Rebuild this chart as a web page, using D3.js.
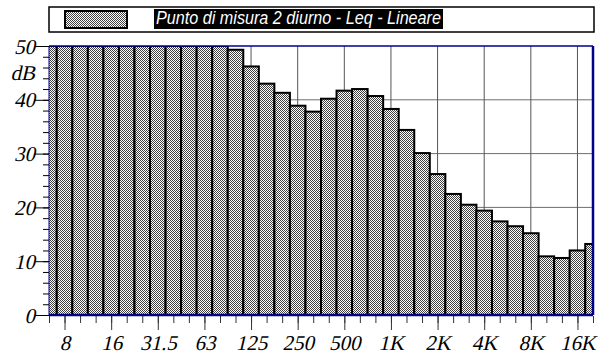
<!DOCTYPE html>
<html>
<head>
<meta charset="utf-8">
<script src="https://cdn.jsdelivr.net/npm/d3@7"></script>
<style>
  body { margin: 0; background: #fff; }
  svg { display: block; }
  .serif { font-family: "Liberation Serif", "Times New Roman", serif; font-size: 21px; }
</style>
</head>
<body>
<div id="chart"></div>
<script>
// 1/3 octave bands, 6.3 Hz .. 20 kHz
const bands = ["6.3", "8", "10", "12.5", "16", "20", "25", "31.5", "40", "50", "63", "80",
    "100", "125", "160", "200", "250", "315", "400", "500", "630", "800", "1K", "1.25K",
    "1.6K", "2K", "2.5K", "3.15K", "4K", "5K", "6.3K", "8K", "10K", "12.5K", "16K", "20K"];

// Leq (dB, linear) - bands below 100 Hz go off the top of the scale
const levels = [58.2, 60.1, 61.5, 62.3, 63.0, 62.4, 61.0, 59.8, 57.5, 55.9, 54.0, 51.6,
    49.3, 46.2, 43.0, 41.3, 38.9, 37.8, 40.2, 41.7, 42.0, 40.7, 38.3, 34.4,
    30.1, 26.2, 22.5, 20.5, 19.4, 17.4, 16.5, 15.2, 10.9, 10.6, 12.0, 13.2];

const xLabels = ["8", "16", "31.5", "63", "125", "250", "500", "1K", "2K", "4K", "8K", "16K"];
const yMajor = [0, 10, 20, 30, 40, 50];
const seriesName = "Punto di misura 2 diurno - Leq - Lineare";

const width = 603;
const height = 356;
const margin = { top: 46, right: 10, bottom: 41, left: 49 };
const slant = -13; // fake italic, the serif italic face does not render here

const svg = d3.select("#chart").append("svg")
    .attr("width", width)
    .attr("height", height);

// dithered grey fill like the original
const defs = svg.append("defs");
const pat = defs.append("pattern")
    .attr("id", "dots")
    .attr("patternUnits", "userSpaceOnUse")
    .attr("width", 2).attr("height", 2);
pat.append("rect").attr("width", 2).attr("height", 2).attr("fill", "#fff");
pat.append("rect").attr("width", 1).attr("height", 1).attr("fill", "#404040");
pat.append("rect").attr("x", 1).attr("y", 1).attr("width", 1).attr("height", 1).attr("fill", "#404040");

const x = d3.scaleLinear()
    .domain([0, bands.length - 1])
    .range([margin.left, width - margin.right]);

const y = d3.scaleLinear()
    .domain([0, 50])
    .range([height - margin.bottom, margin.top])
    .clamp(true);

const step = x(1) - x(0);

defs.append("clipPath").attr("id", "plot")
    .append("rect")
    .attr("x", margin.left).attr("y", margin.top)
    .attr("width", width - margin.right - margin.left)
    .attr("height", height - margin.bottom - margin.top);

// grid
const grid = svg.append("g");
grid.selectAll("line.h")
    .data(yMajor.slice(1, -1))
    .join("line")
    .attr("x1", margin.left).attr("x2", width - margin.right)
    .attr("y1", d => y(d)).attr("y2", d => y(d))
    .attr("stroke", "#6e6e6e").attr("stroke-width", 1);

const majorIdx = d3.range(bands.length).filter(i => i % 3 === 1);
grid.selectAll("line.v")
    .data(majorIdx)
    .join("line")
    .attr("x1", d => x(d)).attr("x2", d => x(d))
    .attr("y1", margin.top).attr("y2", height - margin.bottom)
    .attr("stroke", "#555").attr("stroke-width", 1);

// bars
svg.append("g")
    .attr("clip-path", "url(#plot)")
    .selectAll("rect")
    .data(levels)
    .join("rect")
    .attr("x", (d, i) => x(i) - step / 2)
    .attr("width", step)
    .attr("y", d => y(d))
    .attr("height", d => y(0) - y(d))
    .attr("fill", "url(#dots)")
    .attr("stroke", "#000")
    .attr("stroke-width", 2);

// frame (blue)
const blue = "#00008b";
svg.append("line")
    .attr("x1", margin.left).attr("x2", width - margin.right)
    .attr("y1", margin.top).attr("y2", margin.top)
    .attr("stroke", blue).attr("stroke-width", 1.5);
svg.append("line")
    .attr("x1", width - margin.right).attr("x2", width - margin.right)
    .attr("y1", margin.top).attr("y2", y(0))
    .attr("stroke", blue).attr("stroke-width", 2.5);
svg.append("line")
    .attr("x1", margin.left).attr("x2", margin.left)
    .attr("y1", margin.top).attr("y2", y(0))
    .attr("stroke", blue).attr("stroke-width", 1);

// x axis: minor ticks on every band, longer labelled ticks every octave
svg.append("g")
    .attr("transform", `translate(0,${y(0) + 1})`)
    .call(d3.axisBottom(x).tickValues(d3.range(bands.length)).tickSize(7).tickFormat(""))
    .call(g => g.select(".domain").remove())
    .call(g => g.selectAll("line").attr("stroke", "#333"));

svg.append("g")
    .attr("transform", `translate(0,${y(0) + 1})`)
    .call(d3.axisBottom(x).tickValues(majorIdx).tickSize(14)
        .tickFormat((d, i) => xLabels[i]))
    .call(g => g.select(".domain").remove())
    .call(g => g.selectAll("line").attr("stroke", "#333"))
    .call(g => g.selectAll("text")
        .attr("class", "serif")
        .attr("fill", "#000")
        .attr("y", 0).attr("dy", null)
        .attr("transform", `translate(0,34) skewX(${slant})`));

svg.append("line")
    .attr("x1", margin.left).attr("x2", width - margin.right)
    .attr("y1", y(0)).attr("y2", y(0))
    .attr("stroke", blue).attr("stroke-width", 2.5);

// y axis
svg.append("g")
    .attr("transform", `translate(${margin.left},0)`)
    .call(d3.axisLeft(y).tickValues(d3.range(0, 51, 2)).tickSize(6).tickFormat(""))
    .call(g => g.select(".domain").remove())
    .call(g => g.selectAll("line").attr("stroke", "#000"));

svg.append("g")
    .attr("transform", `translate(${margin.left},0)`)
    .call(d3.axisLeft(y).tickValues(yMajor).tickSize(14))
    .call(g => g.select(".domain").remove())
    .call(g => g.selectAll("line").attr("stroke", "#000"))
    .call(g => g.selectAll("text")
        .attr("class", "serif")
        .attr("fill", "#000")
        .attr("x", 0).attr("dy", null)
        .attr("transform", `translate(-14,7) skewX(${slant})`));

svg.append("text")
    .attr("class", "serif")
    .attr("text-anchor", "end")
    .attr("transform", `translate(35,${y(45) + 7}) skewX(${slant})`)
    .text("dB");

// legend
const legend = svg.append("g");
legend.append("rect")
    .attr("x", 49).attr("y", 7)
    .attr("width", 545).attr("height", 25)
    .attr("fill", "#fff").attr("stroke", "#000").attr("stroke-width", 1.5);
legend.append("rect")
    .attr("x", 65).attr("y", 11)
    .attr("width", 62).attr("height", 17)
    .attr("fill", "url(#dots)").attr("stroke", "#000").attr("stroke-width", 2);
legend.append("rect")
    .attr("x", 154).attr("y", 9)
    .attr("width", 289).attr("height", 20)
    .attr("fill", "#000");
legend.append("text")
    .attr("x", 156).attr("y", 24)
    .attr("fill", "#fff")
    .style("font-family", "\"Liberation Sans Narrow\", \"Liberation Sans\", Arial, sans-serif")
    .style("font-style", "italic")
    .style("font-size", "18px")
    .attr("textLength", 285)
    .attr("lengthAdjust", "spacingAndGlyphs")
    .text(seriesName);
</script>
</body>
</html>
